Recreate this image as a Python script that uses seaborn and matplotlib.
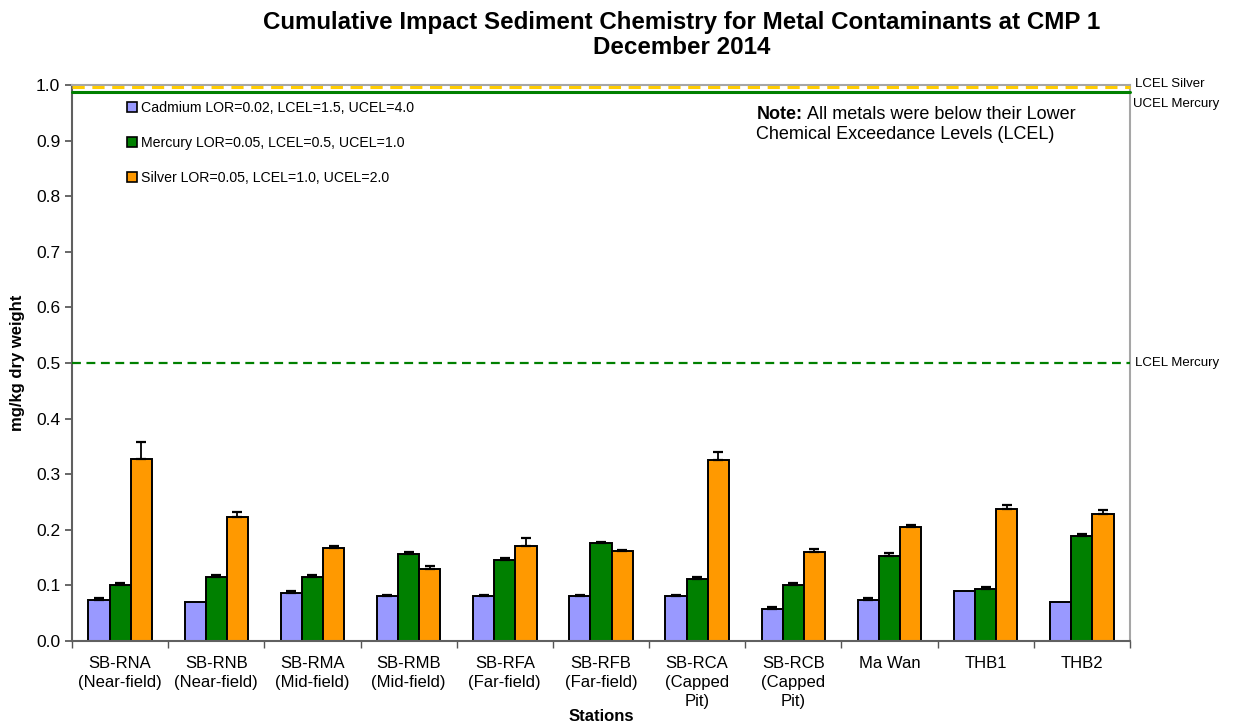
import numpy as np
import pandas as pd
import seaborn as sns
import matplotlib
matplotlib.use("Agg")
import matplotlib.pyplot as plt
from matplotlib import transforms
from matplotlib.patches import Patch

sns.set_theme(style="ticks")
plt.rcParams['font.family'] = ['Liberation Sans', 'DejaVu Sans']
plt.rcParams['text.color'] = 'black'
plt.rcParams['axes.labelcolor'] = 'black'

# %% data
stations = ['SB-RNA\n(Near-field)', 'SB-RNB\n(Near-field)', 'SB-RMA\n(Mid-field)',
            'SB-RMB\n(Mid-field)', 'SB-RFA\n(Far-field)', 'SB-RFB\n(Far-field)',
            'SB-RCA\n(Capped\nPit)', 'SB-RCB\n(Capped\nPit)', 'Ma Wan', 'THB1', 'THB2']
metals = ['Cadmium', 'Mercury', 'Silver']
legend_labels = ['Cadmium LOR=0.02, LCEL=1.5, UCEL=4.0',
                 'Mercury LOR=0.05, LCEL=0.5, UCEL=1.0',
                 'Silver LOR=0.05, LCEL=1.0, UCEL=2.0']
cadmium = [0.073, 0.070, 0.086, 0.081, 0.081, 0.081, 0.081, 0.058, 0.073, 0.090, 0.070]
mercury = [0.101, 0.115, 0.115, 0.156, 0.146, 0.176, 0.112, 0.100, 0.153, 0.094, 0.189]
silver = [0.327, 0.223, 0.167, 0.130, 0.171, 0.162, 0.325, 0.160, 0.205, 0.237, 0.228]
cadmium_err = [0.004, 0.0, 0.004, 0.002, 0.002, 0.002, 0.002, 0.004, 0.005, 0.0, 0.0]
mercury_err = [0.004, 0.003, 0.003, 0.004, 0.004, 0.002, 0.004, 0.004, 0.005, 0.004, 0.003]
silver_err = [0.031, 0.009, 0.004, 0.005, 0.015, 0.002, 0.015, 0.006, 0.004, 0.007, 0.008]
lcel_silver = 1.0
ucel_mercury = 1.0
lcel_mercury = 0.5

colors = ['#9999FF', '#008000', '#FF9900']

df = pd.DataFrame({
    'station': stations * 3,
    'metal': np.repeat(metals, len(stations)),
    'value': cadmium + mercury + silver,
    'err': cadmium_err + mercury_err + silver_err,
})

# %% plot
fig = plt.figure(figsize=(12.33, 7.24), dpi=100)
ax = fig.add_axes([0.0584, 0.1146, 0.858, 0.768])

sns.barplot(ax=ax, data=df, x='station', y='value', hue='metal', hue_order=metals,
            order=stations, palette=colors, width=0.66, gap=0, edgecolor='black',
            linewidth=1.4, errorbar=None, saturation=1, legend=False)

# error bars (upper side only) on top of each bar
for cont, metal in zip(ax.containers, metals):
    sub = df[df['metal'] == metal]
    xs = np.array([b.get_x() + b.get_width() / 2 for b in cont])
    errs = sub['err'].values
    vals = sub['value'].values
    mask = errs > 0
    ax.errorbar(xs[mask], vals[mask], yerr=[np.zeros(mask.sum()), errs[mask]],
                fmt='none', ecolor='black', elinewidth=1.3, capsize=3.8, capthick=1.6, zorder=3)

# reference lines (drawn slightly apart, as in the original, so both are visible)
off1 = transforms.offset_copy(ax.transData, fig=fig, x=0, y=-1.6, units='points')
off2 = transforms.offset_copy(ax.transData, fig=fig, x=0, y=-5.0, units='points')
ax.plot([-0.5, len(stations) - 0.5], [lcel_silver, lcel_silver], transform=off1,
        color='#FFCC00', ls=(0, (4, 2.5)), lw=2.2, clip_on=False, zorder=4)
ax.plot([-0.5, len(stations) - 0.5], [ucel_mercury, ucel_mercury], transform=off2,
        color='#008000', lw=2.2, clip_on=False, zorder=4)
ax.plot([-0.5, len(stations) - 0.5], [lcel_mercury, lcel_mercury],
        color='#008000', ls=(0, (4, 2.5)), lw=1.6, zorder=4)

ax.annotate('LCEL Silver', xy=(1.0, lcel_silver), xycoords=('axes fraction', 'data'),
            xytext=(4, 0.5), textcoords='offset points', fontsize=9.5, va='center')
ax.annotate('UCEL Mercury', xy=(1.0, ucel_mercury), xycoords=('axes fraction', 'data'),
            xytext=(2, -14), textcoords='offset points', fontsize=9.5, va='center')
ax.annotate('LCEL Mercury', xy=(1.0, lcel_mercury), xycoords=('axes fraction', 'data'),
            xytext=(4, 0), textcoords='offset points', fontsize=9.5, va='center')

ax.set_xlim(-0.5, len(stations) - 0.5)
ax.set_ylim(0, 1.0)
ax.set_yticks(np.arange(0, 1.01, 0.1))
ax.set_yticklabels([f'{v:.1f}' for v in np.arange(0, 1.01, 0.1)], fontsize=12.5)
ax.set_xticks(range(len(stations)))
ax.set_xticklabels(stations, fontsize=12, va='top', linespacing=1.3)
ax.tick_params(axis='x', which='major', length=0, pad=11, labelcolor='black')
ax.set_xticks(np.arange(-0.5, len(stations), 1), minor=True)
ax.tick_params(axis='x', which='minor', length=5, direction='out', color='#555555')
ax.tick_params(axis='y', length=5, direction='out', color='#555555', labelcolor='black')

for side in ['left', 'bottom']:
    ax.spines[side].set_color('#606060')
    ax.spines[side].set_linewidth(1.5)
for side in ['top', 'right']:
    ax.spines[side].set_visible(True)
    ax.spines[side].set_color('#A6A6A6')
    ax.spines[side].set_linewidth(1.5)

ax.set_xlabel('Stations', fontsize=12, fontweight='bold')
ax.xaxis.set_label_coords(0.5, -0.123)
ax.set_ylabel('mg/kg dry weight', fontsize=12, fontweight='bold', labelpad=8)

handles = [Patch(facecolor=c, edgecolor='black', linewidth=1.2) for c in colors]
leg = ax.legend(handles, legend_labels, loc='upper left', bbox_to_anchor=(0.04, 0.995),
                frameon=False, fontsize=10.2, labelspacing=1.5, handlelength=0.7,
                handleheight=0.7, handletextpad=0.25)

note = ax.text(0.647, 0.963, 'Note:', transform=ax.transAxes, fontsize=13,
               fontweight='bold', va='top', ha='left')
ax.annotate(' All metals were below their Lower', xycoords=note, xy=(1, 0),
            va='bottom', ha='left', fontsize=13)
ax.text(0.647, 0.926, 'Chemical Exceedance Levels (LCEL)', transform=ax.transAxes,
        fontsize=13, va='top', ha='left')

fig.suptitle('Cumulative Impact Sediment Chemistry for Metal Contaminants at CMP 1\nDecember 2014',
             x=0.553, y=0.985, fontsize=17.4, fontweight='bold', linespacing=1.12)

fig.savefig('out.png', dpi=100)
